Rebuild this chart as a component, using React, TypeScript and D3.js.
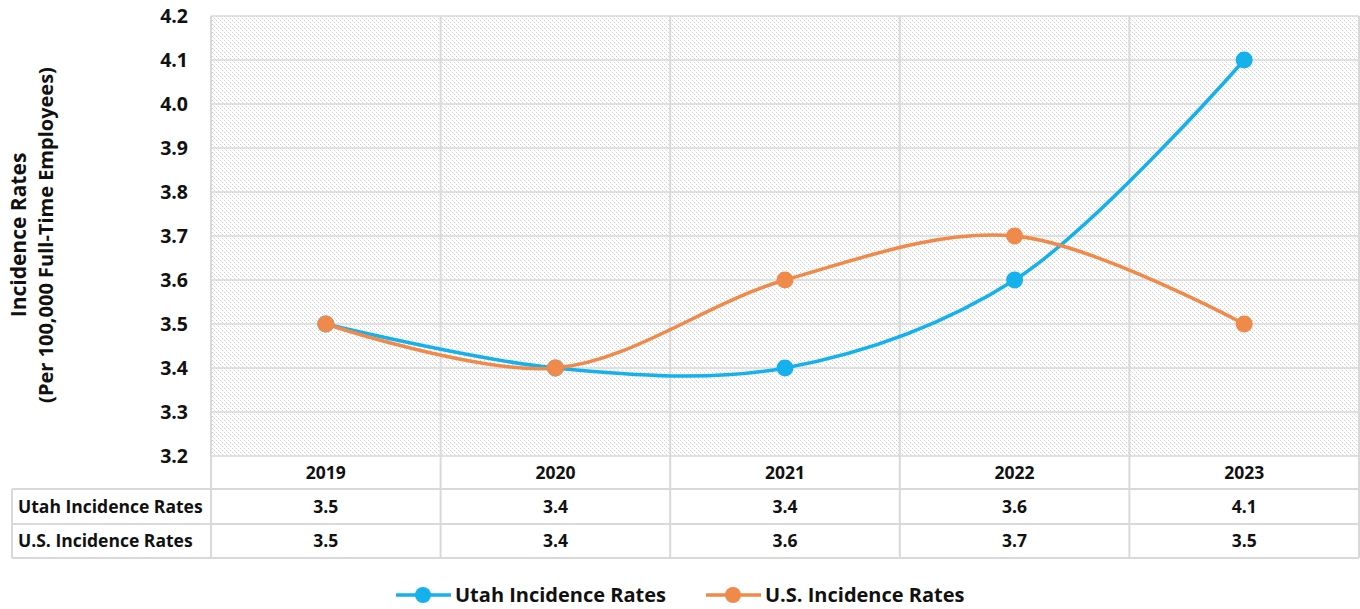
import React, { useRef, useEffect } from "react";
import * as d3 from "d3";

const years = ["2019", "2020", "2021", "2022", "2023"];
const utahRates = [3.5, 3.4, 3.4, 3.6, 4.1];
const usRates = [3.5, 3.4, 3.6, 3.7, 3.5];
const yTicks = [3.2, 3.3, 3.4, 3.5, 3.6, 3.7, 3.8, 3.9, 4.0, 4.1, 4.2];

const series = [
  { name: "Utah Incidence Rates", values: utahRates, color: "#14B1EC" },
  { name: "U.S. Incidence Rates", values: usRates, color: "#EF8A4A" },
];

const W = 1360;
const H = 609;
const FONT = "'Open Sans', Lato, sans-serif";

const App = () => {
  const svgRef = useRef<SVGSVGElement>(null);

  useEffect(() => {
    const svg = d3.select(svgRef.current);
    svg.selectAll("*").remove();

    const plot = { left: 211, right: 1359, top: 16, bottom: 456 };
    const rowH = [456, 489, 524, 558];
    const tableLeft = 12;

    // scales
    const x = d3.scaleBand().domain(years).range([plot.left, plot.right]);
    const y = d3.scaleLinear().domain([3.2, 4.2]).range([plot.bottom, plot.top]);
    const cx = (yr: string) => (x(yr) as number) + x.bandwidth() / 2;

    // pixel hatch pattern (diagonal, dotted)
    const defs = svg.append("defs");
    const pat = defs
      .append("pattern")
      .attr("id", "hatch")
      .attr("patternUnits", "userSpaceOnUse")
      .attr("width", 4)
      .attr("height", 4);
    [0, 1, 2, 3].forEach((k) => {
      pat
        .append("rect")
        .attr("x", k)
        .attr("y", k)
        .attr("width", 1)
        .attr("height", 1)
        .attr("fill", k % 2 === 0 ? "#d2d2d2" : "#f0f0f0");
    });

    svg
      .append("rect")
      .attr("x", plot.left)
      .attr("y", plot.top)
      .attr("width", plot.right - plot.left)
      .attr("height", plot.bottom - plot.top)
      .attr("fill", "url(#hatch)")
      .attr("shape-rendering", "crispEdges");

    const grid = "#d9d9d9";

    // horizontal gridlines
    svg
      .append("g")
      .selectAll("line")
      .data(yTicks)
      .join("line")
      .attr("x1", plot.left)
      .attr("x2", plot.right)
      .attr("y1", (d) => y(d))
      .attr("y2", (d) => y(d))
      .attr("stroke", grid)
      .attr("stroke-width", 1.5);

    // vertical lines through plot and table
    const vx = [plot.left, ...years.slice(1).map((yr) => x(yr) as number), plot.right];
    svg
      .append("g")
      .selectAll("line")
      .data(vx)
      .join("line")
      .attr("x1", (d) => d)
      .attr("x2", (d) => d)
      .attr("y1", plot.top)
      .attr("y2", rowH[3])
      .attr("stroke", grid)
      .attr("stroke-width", 2);

    // table horizontal lines
    svg
      .append("g")
      .selectAll("line")
      .data(rowH.slice(1))
      .join("line")
      .attr("x1", tableLeft)
      .attr("x2", plot.right)
      .attr("y1", (d) => d)
      .attr("y2", (d) => d)
      .attr("stroke", grid)
      .attr("stroke-width", 2);
    svg
      .append("line")
      .attr("x1", tableLeft)
      .attr("x2", tableLeft)
      .attr("y1", rowH[1])
      .attr("y2", rowH[3])
      .attr("stroke", grid)
      .attr("stroke-width", 2);

    // y axis labels
    svg
      .append("g")
      .selectAll("text")
      .data(yTicks)
      .join("text")
      .attr("x", 188)
      .attr("y", (d) => y(d))
      .attr("dy", "0.35em")
      .attr("text-anchor", "end")
      .attr("font-family", FONT)
      .attr("font-weight", "bold")
      .attr("font-size", 19.5)
      .attr("fill", "#111")
      .text((d) => d.toFixed(1));

    // y axis title
    const title = svg
      .append("text")
      .attr("transform", "translate(0,235) rotate(-90)")
      .attr("text-anchor", "middle")
      .attr("font-family", FONT)
      .attr("font-weight", "bold")
      .attr("fill", "#111");
    title.append("tspan").attr("x", 0).attr("y", 26).attr("font-size", 21).text("Incidence Rates");
    title
      .append("tspan")
      .attr("x", 0)
      .attr("y", 53)
      .attr("font-size", 20)
      .text("(Per 100,000 Full-Time Employees)");

    // table text
    const cellText = (tx: number, ty: number, s: string, anchor = "middle") =>
      svg
        .append("text")
        .attr("x", tx)
        .attr("y", ty)
        .attr("dy", "0.35em")
        .attr("text-anchor", anchor)
        .attr("font-family", FONT)
        .attr("font-weight", "bold")
        .attr("font-size", 17.5)
        .attr("fill", "#111")
        .text(s);

    years.forEach((yr) => cellText(cx(yr), (rowH[0] + rowH[1]) / 2, yr));
    series.forEach((s, i) => {
      const ty = (rowH[i + 1] + rowH[i + 2]) / 2;
      cellText(18, ty, s.name, "start");
      s.values.forEach((v, j) => cellText(cx(years[j]), ty, v.toFixed(1)));
    });

    // lines + markers
    const line = d3
      .line<number>()
      .x((_, i) => cx(years[i]))
      .y((d) => y(d))
      .curve(d3.curveCatmullRom.alpha(0.5));

    series.forEach((s) => {
      svg
        .append("path")
        .attr("d", line(s.values))
        .attr("fill", "none")
        .attr("stroke", s.color)
        .attr("stroke-width", 3.5);
    });
    series.forEach((s) => {
      svg
        .append("g")
        .selectAll("circle")
        .data(s.values)
        .join("circle")
        .attr("cx", (_, i) => cx(years[i]))
        .attr("cy", (d) => y(d))
        .attr("r", 8.5)
        .attr("fill", s.color);
    });

    // legend
    const legendX = [396, 706];
    series.forEach((s, i) => {
      const lg = svg.append("g").attr("transform", `translate(${legendX[i]},595)`);
      lg.append("line")
        .attr("x1", 0)
        .attr("x2", 55)
        .attr("stroke", s.color)
        .attr("stroke-width", 3.5);
      lg.append("circle").attr("cx", 27).attr("r", 8).attr("fill", s.color);
      lg.append("text")
        .attr("x", 59)
        .attr("dy", "0.35em")
        .attr("font-family", FONT)
        .attr("font-weight", "bold")
        .attr("font-size", 20)
        .attr("fill", "#111")
        .text(s.name);
    });
  }, []);

  return (
    <svg
      ref={svgRef}
      width={W}
      height={H}
      style={{ position: "absolute", left: 0, top: 0, background: "#fff" }}
    />
  );
};

export default App;
